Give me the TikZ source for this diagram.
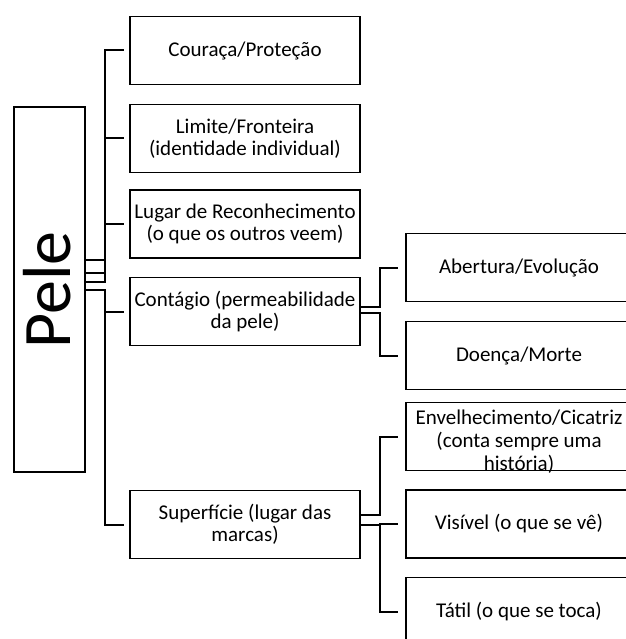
\documentclass[tikz,border=0pt]{standalone}
\usepackage{fontspec}
\setmainfont{Carlito}
\begin{document}
\begin{tikzpicture}[x=1pt,y=-1pt,
  box/.style={draw=black,line width=1.8pt,inner sep=0pt,align=center,
    font=\fontsize{21}{22}\selectfont},
  lone/.style={box,minimum width=230pt,minimum height=68pt},
  ltwo/.style={box,minimum width=226pt,minimum height=68pt},
  conn/.style={draw=black,line width=2pt},
  txt/.style={inner sep=0pt,align=center,font=\fontsize{21}{23}\selectfont}]
\useasboundingbox (0,0) rectangle (625,639);
% root
\node[draw=black,line width=1.8pt,minimum width=71pt,minimum height=365pt,inner sep=0pt] (pele) at (49.5,289.5) {};
\node[rotate=90,inner sep=0pt,font=\fontsize{68}{70}\selectfont] (peletxt) at (47.5,290) {Pele};
% level 1
\node[lone] (cou) at (245,50.5) {Couraça/Proteção};
\node[lone] (lim) at (245,138.5) {Limite/Fronteira\\(identidade individual)};
\node[lone] (lug) at (245,224) {Lugar de Reconhecimento\\(o que os outros veem)};
\node[lone] (con) at (245,311.5) {Contágio (permeabilidade\\da pele)};
\node[lone] (sup) at (245,524.5) {Superfície (lugar das\\marcas)};
% level 2
\node[ltwo] (abe) at (519,267.5) {Abertura/Evolução};
\node[ltwo] (doe) at (519,355.5) {Doença/Morte};
\node[ltwo,label={[txt,yshift=-5pt]center:{Envelhecimento/Cicatriz\\(conta sempre uma\\história)}}] (env) at (519,436.5) {};
\node[ltwo] (vis) at (519,524) {Visível (o que se vê)};
\node[ltwo] (tat) at (519,611.5) {Tátil (o que se toca)};
% connectors root -> level 1
\draw[conn] ([yshift=30pt]pele.east) -- ++(19,0) |- ([xshift=-5pt]cou.west);
\draw[conn] ([yshift=17pt]pele.east) -- ++(19,0) |- ([xshift=-5pt]lim.west);
\draw[conn] ([yshift=8pt]pele.east) -- ++(19,0) |- ([xshift=-5pt]lug.west);
\draw[conn] ([yshift=0pt]pele.east) -- ++(19,0) |- ([xshift=-5pt]con.west);
\draw[conn] ([yshift=0pt]pele.east) -- ++(19,0) |- ([xshift=-5pt]sup.west);
% contagio -> level 2
\draw[conn] ([yshift=5pt]con.east) -- ++(19,0) |- ([xshift=-7pt]abe.west);
\draw[conn] ([yshift=-1pt]con.east) -- ++(19,0) |- ([xshift=-7pt]doe.west);
% superficie -> level 2
\draw[conn] ([yshift=10pt]sup.east) -- ++(19,0) |- ([xshift=-7pt]env.west);
\draw[conn] ([yshift=0pt]sup.east) -- ++(19,0) |- ([xshift=-7pt]vis.west);
\draw[conn] ([yshift=0pt]sup.east) -- ++(19,0) |- ([xshift=-7pt]tat.west);
\end{tikzpicture}
\end{document}
